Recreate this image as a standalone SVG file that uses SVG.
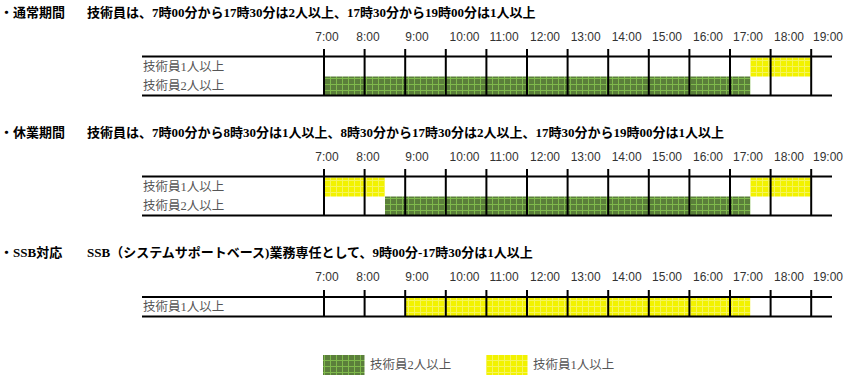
<svg xmlns="http://www.w3.org/2000/svg" width="846" height="376" viewBox="0 0 846 376">
<defs>
<pattern id="pg" patternUnits="userSpaceOnUse" width="6" height="6">
<rect width="6" height="6" fill="#5b7f3b"/>
<rect x="0" y="0" width="6" height="1" fill="#7fb94c"/>
<rect x="0" y="0" width="1" height="6" fill="#7fb94c"/>
</pattern>
<pattern id="py" patternUnits="userSpaceOnUse" width="6" height="6">
<rect width="6" height="6" fill="#f2f200"/>
<rect x="0" y="0" width="6" height="1" fill="#f5f55c"/>
<rect x="0" y="0" width="1" height="6" fill="#f5f55c"/>
</pattern>
<style>
.title{font-family:"Liberation Serif","Noto Sans CJK JP",serif;font-weight:bold;font-size:13px;fill:#000}
.time{font-family:"Liberation Sans",Arial,sans-serif;font-size:12px;fill:#333;text-anchor:middle}
.lbl{font-family:"Liberation Serif","Noto Sans CJK JP",serif;font-size:12.5px;fill:#555}
.hl{stroke:#000;stroke-width:2}
.tk{stroke:#000;stroke-width:2}
.g{fill:url(#pg)}
.y{fill:url(#py)}
</style>
<g id="axis">
<text class="time" x="327" y="41">7:00</text>
<text class="time" x="368" y="41">8:00</text>
<text class="time" x="417" y="41">9:00</text>
<text class="time" x="464.5" y="41">10:00</text>
<text class="time" x="504" y="41">11:00</text>
<text class="time" x="545" y="41">12:00</text>
<text class="time" x="585.7" y="41">13:00</text>
<text class="time" x="626.7" y="41">14:00</text>
<text class="time" x="667" y="41">15:00</text>
<text class="time" x="708" y="41">16:00</text>
<text class="time" x="748" y="41">17:00</text>
<text class="time" x="789" y="41">18:00</text>
<text class="time" x="828" y="41">19:00</text>
</g>
</defs>

<g id="section-normal">
<text class="title" x="0" y="17">・通常期間</text>
<text class="title" x="87" y="17">技術員は、7時00分から17時30分は2人以上、17時30分から19時00分は1人以上</text>
<use href="#axis"/>
<rect class="y" x="750.3" y="57.5" width="60.9" height="19"/>
<rect class="g" x="324" y="76.5" width="426.3" height="19"/>
<g class="tk">
<line x1="324" y1="49" x2="324" y2="96"/><line x1="364.6" y1="49" x2="364.6" y2="96"/><line x1="405.2" y1="49" x2="405.2" y2="96"/><line x1="445.8" y1="49" x2="445.8" y2="96"/><line x1="486.4" y1="49" x2="486.4" y2="96"/><line x1="527" y1="49" x2="527" y2="96"/><line x1="567.6" y1="49" x2="567.6" y2="96"/><line x1="608.2" y1="49" x2="608.2" y2="96"/><line x1="648.8" y1="49" x2="648.8" y2="96"/><line x1="689.4" y1="49" x2="689.4" y2="96"/><line x1="730" y1="49" x2="730" y2="96"/><line x1="770.6" y1="49" x2="770.6" y2="96"/><line x1="811.2" y1="49" x2="811.2" y2="96"/>
</g>
<line class="hl" x1="142" y1="56.5" x2="832" y2="56.5"/>
<line class="hl" x1="142" y1="95.5" x2="832" y2="95.5"/>
<text class="lbl" x="143" y="71">技術員1人以上</text>
<text class="lbl" x="143" y="90">技術員2人以上</text>
</g>

<g id="section-holiday" transform="translate(0,120)">
<text class="title" x="0" y="17">・休業期間</text>
<text class="title" x="87" y="17">技術員は、7時00分から8時30分は1人以上、8時30分から17時30分は2人以上、17時30分から19時00分は1人以上</text>
<use href="#axis"/>
<rect class="y" x="324" y="57.5" width="61" height="19"/>
<rect class="y" x="750.3" y="57.5" width="60.9" height="19"/>
<rect class="g" x="385" y="76.5" width="365.3" height="19"/>
<g class="tk">
<line x1="324" y1="49" x2="324" y2="96"/><line x1="364.6" y1="49" x2="364.6" y2="96"/><line x1="405.2" y1="49" x2="405.2" y2="96"/><line x1="445.8" y1="49" x2="445.8" y2="96"/><line x1="486.4" y1="49" x2="486.4" y2="96"/><line x1="527" y1="49" x2="527" y2="96"/><line x1="567.6" y1="49" x2="567.6" y2="96"/><line x1="608.2" y1="49" x2="608.2" y2="96"/><line x1="648.8" y1="49" x2="648.8" y2="96"/><line x1="689.4" y1="49" x2="689.4" y2="96"/><line x1="730" y1="49" x2="730" y2="96"/><line x1="770.6" y1="49" x2="770.6" y2="96"/><line x1="811.2" y1="49" x2="811.2" y2="96"/>
</g>
<line class="hl" x1="142" y1="56.5" x2="832" y2="56.5"/>
<line class="hl" x1="142" y1="95.5" x2="832" y2="95.5"/>
<text class="lbl" x="143" y="71">技術員1人以上</text>
<text class="lbl" x="143" y="90">技術員2人以上</text>
</g>

<g id="section-ssb" transform="translate(0,240)">
<text class="title" x="0" y="17">・SSB対応</text>
<text class="title" x="87" y="17">SSB（システムサポートベース)業務専任として、9時00分-17時30分は1人以上</text>
<use href="#axis"/>
<rect class="y" x="405.2" y="57.5" width="345.1" height="19"/>
<g class="tk">
<line x1="324" y1="50" x2="324" y2="77"/><line x1="364.6" y1="50" x2="364.6" y2="77"/><line x1="405.2" y1="50" x2="405.2" y2="77"/><line x1="445.8" y1="50" x2="445.8" y2="77"/><line x1="486.4" y1="50" x2="486.4" y2="77"/><line x1="527" y1="50" x2="527" y2="77"/><line x1="567.6" y1="50" x2="567.6" y2="77"/><line x1="608.2" y1="50" x2="608.2" y2="77"/><line x1="648.8" y1="50" x2="648.8" y2="77"/><line x1="689.4" y1="50" x2="689.4" y2="77"/><line x1="730" y1="50" x2="730" y2="77"/><line x1="770.6" y1="50" x2="770.6" y2="77"/><line x1="811.2" y1="50" x2="811.2" y2="77"/>
</g>
<line class="hl" x1="142" y1="57" x2="832" y2="57"/>
<line class="hl" x1="142" y1="76.5" x2="832" y2="76.5"/>
<text class="lbl" x="143" y="71">技術員1人以上</text>
</g>

<g id="legend">
<rect class="g" x="323" y="355" width="41.5" height="20"/>
<text class="lbl" x="370" y="369">技術員2人以上</text>
<rect class="y" x="486" y="355" width="41.5" height="20"/>
<text class="lbl" x="533" y="369">技術員1人以上</text>
</g>
</svg>
